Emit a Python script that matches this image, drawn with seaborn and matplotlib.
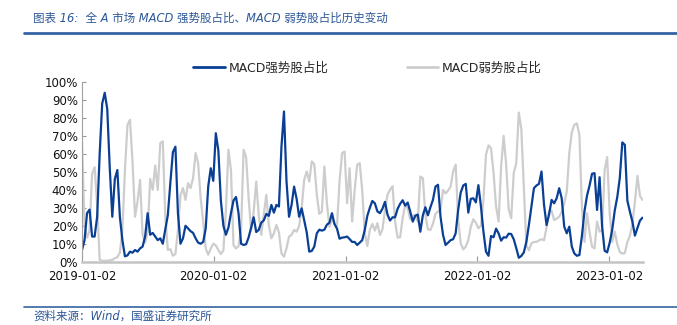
import numpy as np
import pandas as pd
import matplotlib
matplotlib.use("Agg")
import matplotlib.pyplot as plt
import matplotlib.dates as mdates
from matplotlib.lines import Line2D
import seaborn as sns

# ---- data (weekly readings, %), starting 2019-01-02 ----
start_date = "2019-01-02"
strong = [
    6.5, 12, 27, 29, 14, 14, 25, 60, 88, 94, 85, 52, 25, 46, 51, 25, 12, 3, 3.5, 5.6,
    5, 6.5, 5.6, 7.4, 8.4, 14, 27, 15, 16, 14, 12, 13, 10, 18, 26, 44, 61, 64, 27, 10,
    13, 20, 18.5, 17, 16, 13, 10.6, 10, 11, 18.5, 42, 52, 45, 71.5, 62, 34, 20, 15, 19, 27,
    34, 36, 27, 10, 9.3, 9.7, 13.5, 19, 24.7, 16.5, 17.7, 21.7, 23, 26.6, 25.5, 31.6, 27.3, 31.6, 30.7, 64,
    83.6, 44.6, 25, 31.6, 41.8, 35, 25, 29.7, 23, 16.4, 5.6, 6, 8.4, 15.8, 17.8, 17.3, 17.8, 20.6, 21.7, 27,
    21, 18.4, 12.8, 13.4, 13.6, 14, 12.6, 11, 11, 9.3, 10.6, 12, 17.7, 25.5, 30, 33.8, 32.5, 28, 27, 29.5,
    33.3, 26.2, 22.9, 24.7, 24.7, 29.4, 32.2, 34.2, 31.2, 32.9, 27.9, 22.3, 25.6, 26.2, 16.7, 25.8, 30.3, 25.8, 30.3, 34.4,
    41.8, 42.8, 25, 14.9, 9.3, 10.6, 12, 12.5, 15.8, 29, 38.5, 42.4, 43.3, 27.3, 35, 35.3, 33, 42.6, 31, 16.7,
    5.6, 3.3, 14.3, 13.6, 18.4, 15.8, 11.7, 13.6, 13.4, 15.6, 15.4, 12.5, 7.6, 2.2, 3.2, 5.2, 11, 20.4, 30.7, 40.9,
    42.4, 43.3, 50.2, 31.6, 20.4, 26.4, 34.4, 32.5, 35.3, 40.9, 35.3, 19.5, 15.8, 19.5, 8.4, 4.6, 3.3, 3.7, 14.3, 27.9,
    36.6, 42.2, 48.9, 49.3, 28.8, 47, 19.5, 6.1, 5.2, 10.6, 17.7, 28.4, 35.9, 46.5, 66.4, 65, 34, 27.9, 22.3, 14.5,
    18.8, 22.9, 24.5,
]
weak = [
    67, 20, 13.4, 17.3, 49, 52.6, 31.6, 1.1, 0.5, 0.5, 0.5, 0.8, 1, 1.9, 2.5, 5, 17.7, 51, 76, 79,
    55.8, 25, 33.5, 45.5, 15, 10.6, 16.7, 46, 40, 53.5, 40, 66, 67, 25, 6.5, 7, 3.3, 4.3, 17.7, 37,
    41, 34.4, 43.7, 41, 46.5, 60.4, 54.8, 35.3, 22.3, 7.4, 3.9, 7.4, 10, 9, 6.5, 4.3, 6.3, 28.8, 62.3, 51,
    9.3, 7.4, 8.6, 17.7, 62.3, 58.2, 35.3, 17.3, 27.9, 44.6, 26, 15, 26, 37.2, 20.4, 13, 15.8, 20.4, 16.2, 4.6,
    2.8, 7.4, 14, 14.9, 17.7, 16.7, 19.9, 29.7, 45.5, 50.2, 44.6, 55.8, 54.3, 37.2, 26.6, 27.9, 53, 32.5, 19.5, 23.6,
    21, 19.9, 44.6, 60.4, 61.3, 32.5, 52, 22.3, 40, 54, 54.8, 39.6, 15.8, 8.7, 17.7, 21, 17.3, 21.4, 14.9, 18,
    28.8, 37.2, 40, 42, 22.3, 13.4, 13.6, 24.2, 31.6, 29.7, 23.6, 25.6, 25.8, 22.3, 47.4, 46.5, 26, 18, 17.7, 21,
    26.6, 27.9, 28.8, 40, 38, 39.6, 41.8, 50.2, 54, 23.2, 10.2, 6.9, 8.4, 12, 19.5, 23.6, 21.7, 18.6, 19.9, 34.4,
    59.5, 64.7, 63.2, 49.6, 30.7, 22.3, 53, 70, 54, 29.2, 24.2, 49.3, 54.8, 83, 74, 41.8, 9, 6.3, 10.2, 11,
    11, 11.9, 12.5, 11.9, 19.1, 28.3, 28.3, 23.2, 24, 25, 27.7, 32.5, 39, 60.4, 72, 76.2, 77, 70.6, 30.7, 11,
    27, 16.7, 8.4, 7.4, 22.3, 16.7, 17.7, 51, 58.2, 27, 11, 16.7, 9.7, 5.4, 4.5, 4.8, 11, 14.3, 21.4, 33.5,
    47.8, 36.6, 34.4,
]
series_names = ["MACD强势股占比", "MACD弱势股占比"]
x_tick_labels = ["2019-01-02", "2020-01-02", "2021-01-02", "2022-01-02", "2023-01-02"]
y_ticks = list(range(0, 101, 10))
title_text = "图表 16:  全 A 市场 MACD 强势股占比、MACD 弱势股占比历史变动"
source_text = "资料来源：Wind，国盛证券研究所"

# ---- build frame ----
dates = pd.date_range(start_date, periods=len(strong), freq="7D")
df = pd.DataFrame({"date": dates, series_names[0]: strong, series_names[1]: weak})
long = df.melt(id_vars="date", var_name="series", value_name="value")

sns.set_theme(style="white")
plt.rcParams["font.family"] = ["DejaVu Sans", "Noto Sans CJK SC"]
plt.rcParams["axes.unicode_minus"] = False

BLUE = "#0a3f96"
GRAY = "#cdcdcd"
TXT_BLUE = "#2b5797"

fig = plt.figure(figsize=(6.77, 3.25), dpi=100)
ax = fig.add_axes([82 / 677, 1 - 261.7 / 325, (642.5 - 82) / 677, (261.7 - 82) / 325])

sns.lineplot(data=long[long.series == series_names[1]], x="date", y="value",
             color=GRAY, lw=1.6, ax=ax, legend=False)
sns.lineplot(data=long[long.series == series_names[0]], x="date", y="value",
             color=BLUE, lw=1.6, ax=ax, legend=False)

ax.set_ylim(0, 100)
ax.set_xlim(pd.Timestamp(start_date), dates[-1])
ax.set_yticks(y_ticks)
ax.set_yticklabels([f"{v}%" for v in y_ticks], fontsize=8.5, color="#111111")
ax.set_xticks(pd.to_datetime(x_tick_labels))
ax.set_xticklabels(x_tick_labels, fontsize=8.5, color="#111111")
ax.set_xlabel("")
ax.set_ylabel("")
ax.tick_params(axis="y", direction="in", length=3, width=0.8, color="#999999", pad=3, left=True)
ax.tick_params(axis="x", direction="in", length=4, width=0.8, color="#999999", pad=6, bottom=True)
for s in ["top", "right"]:
    ax.spines[s].set_visible(False)
ax.spines["left"].set_color("#a0a0a0")
ax.spines["left"].set_linewidth(0.8)
ax.spines["bottom"].set_color("#c4c4c4")
ax.spines["bottom"].set_linewidth(1.8)
ax.grid(False)

handles = [Line2D([0], [0], color=BLUE, lw=2), Line2D([0], [0], color=GRAY, lw=2)]
fig.legend(handles, series_names, loc="center", bbox_to_anchor=(0.543, 1 - 68 / 325),
           ncol=2, frameon=False, fontsize=9, handlelength=2.5, handletextpad=0.3,
           columnspacing=6.3, prop={"family": ["DejaVu Sans", "Noto Sans CJK SC"], "size": 9})

fig.text(33 / 677, 1 - 18 / 325, title_text, fontsize=8.3, style="italic", color=TXT_BLUE,
         ha="left", va="center", family=["DejaVu Sans", "Noto Sans CJK SC"])
fig.add_artist(Line2D([24 / 677, 1], [1 - 33 / 325, 1 - 33 / 325], color="#3463a3", lw=2))
fig.add_artist(Line2D([24 / 677, 1], [1 - 307 / 325, 1 - 307 / 325], color="#3463a3", lw=1.2))
fig.text(33 / 677, 1 - 316 / 325, source_text, fontsize=8.3, style="italic", color=TXT_BLUE,
         ha="left", va="center", family=["DejaVu Sans", "Noto Sans CJK SC"])

fig.savefig("out.png", dpi=100)
